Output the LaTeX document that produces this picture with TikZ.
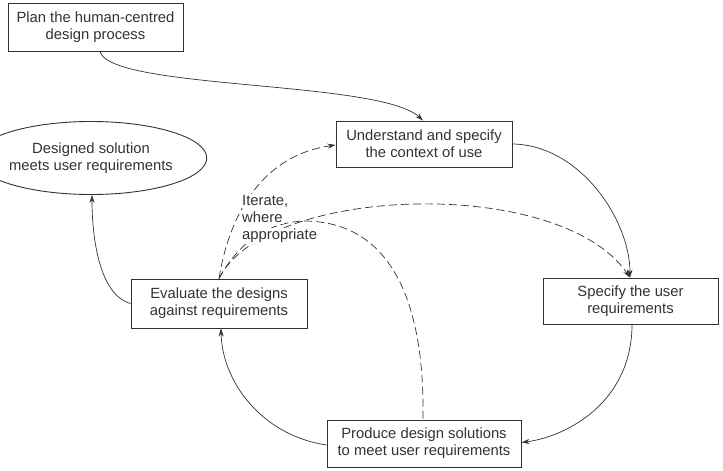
\documentclass[tikz,border=0pt]{standalone}
\usepackage{fontspec}
\setmainfont{Liberation Sans}
\usetikzlibrary{shapes.geometric,arrows.meta}
\definecolor{ink}{HTML}{333333}
\newcommand\wbg[1]{{\setlength{\fboxsep}{1pt}\colorbox{white}{#1}}}
\begin{document}
\begin{tikzpicture}[x=1pt,y=-1pt,
  every node/.style={font=\fontsize{14.8}{17}\selectfont, text=ink, inner sep=0pt, align=center},
  box/.style={draw=ink, line width=0.9pt, rectangle},
  oval/.style={draw=ink, line width=0.9pt, ellipse},
  conn/.style={draw=ink, line width=0.7pt, -{Stealth[length=8pt,width=5pt]}},
  dconn/.style={conn, dash pattern=on 8pt off 4pt},
  dline/.style={draw=ink, line width=0.7pt, dash pattern=on 8pt off 4pt}]
\useasboundingbox (0,0) rectangle (723,471);
\fill[white] (0,0) rectangle (723,471);

\node[box, minimum width=175pt, minimum height=48pt] (plan) at (95.5,27) {Plan the human-centred\\design process};
\node[oval, minimum width=176pt, minimum height=73pt] (done) at (91,158) {Designed solution\\meets user requirements};
\node[box, minimum width=176pt, minimum height=46pt] (ctx) at (424,144) {Understand and specify\\the context of use};
\node[box, minimum width=175pt, minimum height=46pt] (req) at (630.5,301) {Specify the user\\requirements};
\node[box, minimum width=176pt, minimum height=49pt] (eval) at (219,303.5) {Evaluate the designs\\against requirements};
\node[box, minimum width=194pt, minimum height=47pt] (prod) at (424,443.5) {Produce design solutions\\to meet user requirements};

% solid cycle
\draw[conn] ([xshift=4.5pt]plan.south) .. controls (110,90) and (380,80) .. ([xshift=-1pt]ctx.north);
\draw[conn] (ctx.east) .. controls (580,145) and (630,220) .. ([xshift=-0.5pt]req.north);
\draw[conn] ([xshift=1.5pt]req.south) .. controls (632,400) and (570,436) .. ([yshift=1pt]prod.east);
\draw[conn] ([yshift=-1.5pt]prod.west) .. controls (260,435) and (222,380) .. ([xshift=2pt]eval.south);
\draw[conn] (eval.west) .. controls (100,295) and (92,240) .. ([xshift=1pt]done.south);

% iteration (dashed)
\draw[dconn] (eval.north) .. controls (230,210) and (265,155) .. ([yshift=-1pt]ctx.west);
\draw[dconn] (eval.north) .. controls (265,185) and (560,175) .. ([xshift=-0.5pt]req.north);
\draw[dline] (eval.north) .. controls (240,240) and (270,222) .. (305,221) .. controls (390,222) and (425,300) .. ([xshift=-1pt]prod.north);

\node[anchor=west, align=left] (iter) at (241,219) {\wbg{Iterate,}\\\wbg{where}\\\wbg{appropriate}};
\end{tikzpicture}
\end{document}
